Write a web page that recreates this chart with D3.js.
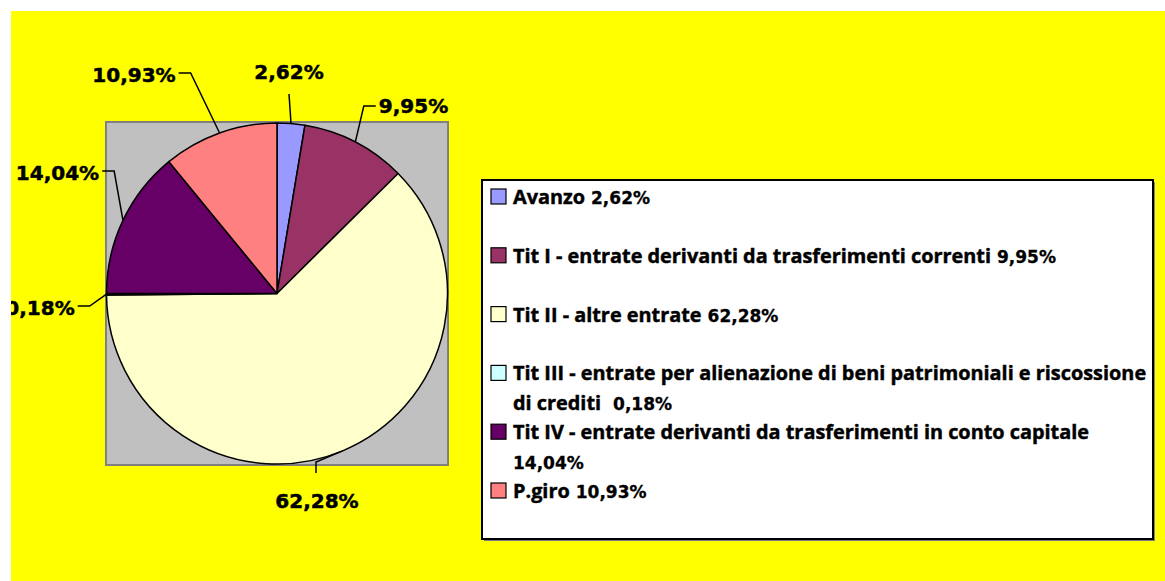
<!DOCTYPE html>
<html><head><meta charset="utf-8">
<script src="https://cdn.jsdelivr.net/npm/d3@7"></script>
<style>html,body{margin:0;padding:0;background:#fff;overflow:hidden}</style>
</head><body>
<svg id="c" width="1165" height="581"></svg>
<script>
// ---- data ----
const categories = [
  "Avanzo",
  "Tit I - entrate derivanti da trasferimenti correnti",
  "Tit II - altre entrate",
  "Tit III - entrate per alienazione di beni patrimoniali e riscossione\ndi crediti ",
  "Tit IV - entrate derivanti da trasferimenti in conto capitale\n",
  "P.giro"
];
const shares = [2.62, 9.95, 62.28, 0.18, 14.04, 10.93];
const colors = ["#9999FF", "#993366", "#FFFFCC", "#CCFFFF", "#660066", "#FF8080"];

// ---- layout ----
const area = {x: 11, y: 11, w: 1154, h: 570};
const plot = {x: 106, y: 122, w: 342, h: 343};
const cx = 277, cy = 293.5, R = 170.5;
// label text centre / baseline relative to pie centre, and leader side
const labelLayout = [
  {dx: 12,    dy: -214.5, side: "bottom"},
  {dx: 136.5, dy: -180.5, side: "left"},
  {dx: 40,    dy: 214.5,  side: "top"},
  {dx: -237,  dy: 21.5,   side: "right"},
  {dx: -219.5,dy: -113.5, side: "right"},
  {dx: -143,  dy: -211.5, side: "right"}
];
const legendBox = {x: 482, y: 180, w: 671, h: 359};

const it = d3.formatLocale({decimal: ",", thousands: ".", grouping: [3], currency: ["€", ""]});
const fmt = v => it.format(".2f")(v) + "%";

const svg = d3.select("#c");
svg.append("defs").append("clipPath").attr("id", "clipArea")
  .append("rect").attr("x", area.x).attr("y", area.y).attr("width", area.w).attr("height", area.h);

const root = svg.append("g").attr("clip-path", "url(#clipArea)");
root.append("rect").attr("x", area.x).attr("y", area.y).attr("width", area.w).attr("height", area.h)
  .attr("fill", "#FFFF00");

// plot area
root.append("rect").attr("x", plot.x).attr("y", plot.y).attr("width", plot.w).attr("height", plot.h)
  .attr("fill", "#C0C0C0").attr("stroke", "#808080").attr("stroke-width", 2);

// pie
const pieData = d3.pie().sort(null).value(d => d)(shares);
const arc = d3.arc().innerRadius(0).outerRadius(R);
const pg = root.append("g").attr("transform", `translate(${cx},${cy})`);
pg.selectAll("path").data(pieData).join("path")
  .attr("d", arc)
  .attr("fill", (d, i) => colors[i])
  .attr("stroke", "#000").attr("stroke-width", 1.5).attr("stroke-linejoin", "round");

// data labels with leader lines
const lblFont = "'DejaVu Sans', Verdana, sans-serif";
const lg = root.append("g");
pieData.forEach((d, i) => {
  const L = labelLayout[i];
  const x = cx + L.dx, y = cy + L.dy;
  const t = lg.append("text").attr("x", x).attr("y", y).attr("text-anchor", "middle")
    .attr("font-family", lblFont).attr("font-weight", "bold").attr("font-size", 20)
    .attr("fill", "#000").attr("stroke", "#000").attr("stroke-width", 0.5)
    .text(fmt(shares[i]));
  const w = t.node().getComputedTextLength();
  const mid = (d.startAngle + d.endAngle) / 2;
  const ex = cx + R * Math.sin(mid), ey = cy - R * Math.cos(mid);
  let pts;
  if (L.side === "right") {
    const sx = x + w / 2 + 3, sy = y - 9;
    pts = [[sx, sy], [sx + 12, sy], [ex, ey]];
  } else if (L.side === "left") {
    const sx = x - w / 2 - 3, sy = y - 7;
    pts = [[sx, sy], [sx - 12, sy], [ex, ey]];
  } else if (L.side === "bottom") {
    pts = [[x, y + 15], [ex, ey]];
  } else {
    const sx = x - 1;
    pts = [[sx, y - 35], [sx, y - 46], [ex, ey]];
  }
  lg.append("path").attr("d", d3.line()(pts)).attr("fill", "none")
    .attr("stroke", "#000").attr("stroke-width", 1.5);
});

// legend
const lgd = root.append("g");
lgd.append("rect").attr("x", legendBox.x + 2).attr("y", legendBox.y + 2)
  .attr("width", legendBox.w).attr("height", legendBox.h).attr("fill", "#808080");
lgd.append("rect").attr("x", legendBox.x).attr("y", legendBox.y)
  .attr("width", legendBox.w).attr("height", legendBox.h)
  .attr("fill", "#fff").attr("stroke", "#000").attr("stroke-width", 2);

const mainFont = "'Open Sans', sans-serif";
const pctFont = "'DejaVu Sans', Verdana, sans-serif";
// horizontal compression factor to emulate the narrow original face
const probe = lgd.append("text").attr("font-family", mainFont).attr("font-weight", "bold")
  .attr("font-size", 19).text(categories[1].split("\n")[0]);
const k = 478 / probe.node().getComputedTextLength();
probe.remove();

const tx = 513, baseY = 204, step = 58.8, lineH = 29.5;
categories.forEach((name, i) => {
  const by = baseY + i * step;
  lgd.append("rect").attr("x", 491).attr("y", by - 15).attr("width", 15).attr("height", 15)
    .attr("fill", colors[i]).attr("stroke", "#000").attr("stroke-width", 1.2);
  const lines = name.split("\n");
  lines.forEach((ln, j) => {
    const y = by + j * lineH;
    const trimmed = ln.replace(/\s+$/, "");
    const trailing = ln.length - trimmed.length;
    let w = 0;
    if (trimmed.length) {
      const t = lgd.append("text").attr("x", tx).attr("y", y)
        .attr("font-family", mainFont).attr("font-weight", "bold").attr("font-size", 19.5)
        .attr("fill", "#000").attr("stroke", "#000").attr("stroke-width", 0.45)
        .text(trimmed);
      const nw = t.node().getComputedTextLength();
      w = nw * k * (19 / 19.5);
      t.attr("textLength", w).attr("lengthAdjust", "spacingAndGlyphs");
    }
    if (j === lines.length - 1) {
      const gap = trimmed.length ? 6 + trailing * 6 : 0;
      lgd.append("text").attr("x", tx + w + gap).attr("y", y)
        .attr("font-family", pctFont).attr("font-weight", "bold").attr("font-size", 17)
        .attr("fill", "#000").attr("stroke", "#000").attr("stroke-width", 0.3)
        .text(fmt(shares[i]));
    }
  });
});
</script>
</body></html>
